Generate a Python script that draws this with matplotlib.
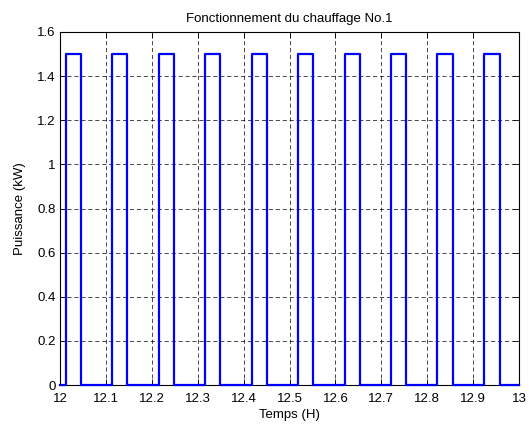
import numpy as np
import matplotlib.pyplot as plt

# heater on/off switching times (hours) and power level
t_on = [12.014, 12.114, 12.216, 12.316, 12.418, 12.519, 12.621, 12.721, 12.822, 12.924]
t_off = [12.045, 12.146, 12.248, 12.349, 12.450, 12.552, 12.654, 12.754, 12.856, 12.958]
p_on = 1.5
p_off = 0.0
t_start, t_end = 12.0, 13.0

xticks = [12, 12.1, 12.2, 12.3, 12.4, 12.5, 12.6, 12.7, 12.8, 12.9, 13]
xticklabels = ['12', '12.1', '12.2', '12.3', '12.4', '12.5', '12.6', '12.7', '12.8', '12.9', '13']
yticks = [0, 0.2, 0.4, 0.6, 0.8, 1, 1.2, 1.4, 1.6]
yticklabels = ['0', '0.2', '0.4', '0.6', '0.8', '1', '1.2', '1.4', '1.6']

# build the square wave
t = [t_start]
p = [p_off]
for a, b in zip(t_on, t_off):
    t += [a, a, b, b]
    p += [p_off, p_on, p_on, p_off]
t.append(t_end)
p.append(p_off)

plt.rcParams['font.family'] = ['Liberation Sans', 'DejaVu Sans']
fig = plt.figure(figsize=(5.29, 4.24), dpi=100)
ax = fig.add_axes([60 / 529, 1 - 385 / 424, 459 / 529, 353 / 424])

ax.plot(t, p, color='#0000ff', lw=1.6, clip_on=False, zorder=3)

ax.set_xlim(t_start, t_end)
ax.set_ylim(0, 1.6)
ax.set_xticks(xticks)
ax.set_xticklabels(xticklabels)
ax.set_yticks(yticks)
ax.set_yticklabels(yticklabels)
ax.tick_params(direction='in', top=True, right=True, length=4, width=0.6,
               labelsize=9.5)
ax.tick_params(axis='x', pad=5.5)
ax.tick_params(axis='y', pad=3)
ax.grid(True, color='black', lw=0.5, linestyle=(0, (6, 4)))
for s in ax.spines.values():
    s.set_linewidth(0.8)

ax.set_title('Fonctionnement du chauffage No.1', fontsize=9.5, pad=7.5)
ax.set_xlabel('Temps (H)', fontsize=9.5, labelpad=3)
ax.set_ylabel('Puissance (kW)', fontsize=9.5, labelpad=8)

fig.savefig('out.png', dpi=100)
